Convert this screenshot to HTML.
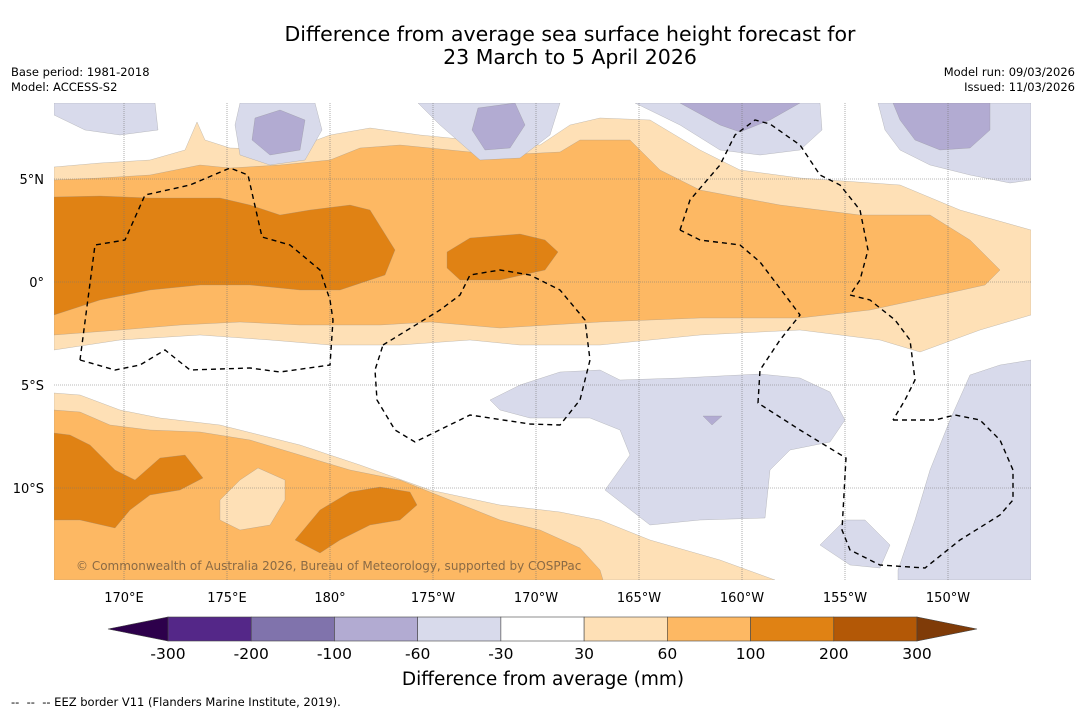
<!DOCTYPE html>
<html><head><meta charset="utf-8"><style>
html,body{margin:0;padding:0;background:#fff;}
body{width:1085px;height:713px;overflow:hidden;font-family:"DejaVu Sans","Liberation Sans",sans-serif;}
svg text{font-family:"DejaVu Sans","Liberation Sans",sans-serif;}
</style></head><body>
<svg id="chart" width="1085" height="713" viewBox="0 0 1085 713">
<text x="570" y="41" font-size="20.5" text-anchor="middle">Difference from average sea surface height forecast for</text>
<text x="570" y="64" font-size="20.5" text-anchor="middle">23 March to 5 April 2026</text>
<text x="11" y="76" font-size="11.5">Base period: 1981-2018</text>
<text x="11" y="91" font-size="11.5">Model: ACCESS-S2</text>
<text x="1075" y="76" font-size="11.5" text-anchor="end">Model run: 09/03/2026</text>
<text x="1075" y="91" font-size="11.5" text-anchor="end">Issued: 11/03/2026</text>
<defs><clipPath id="mapclip"><rect x="54" y="103" width="977" height="477"/></clipPath></defs>
<g id="map" clip-path="url(#mapclip)"></g>
<g id="axes"></g>
<g id="cbar"></g>
<text x="543" y="685" font-size="18.5" text-anchor="middle">Difference from average (mm)</text>
<text x="11" y="706" font-size="11.5" xml:space="preserve" style="white-space:pre">--  --  -- EEZ border V11 (Flanders Marine Institute, 2019).</text>
</svg>
<script>
const lonTicks=[170,175,180,185,190,195,200,205,210];
const lonLabels=["170°E","175°E","180°","175°W","170°W","165°W","160°W","155°W","150°W"];
const latTicks=[5,0,-5,-10];
const latLabels=["5°N","0°","5°S","10°S"];
const levels=[-300,-200,-100,-60,-30,30,60,100,200,300];
const levelColors=["#542788","#8073ac","#b2abd2","#d8daeb","#ffffff","#fee0b6","#fdb863","#e08214","#b35806"];
const extColors=["#2d004b","#7f3b08"];
function xLon(l){return 124+(l-170)*20.6;}
function yLat(l){return 282-l*20.6;}
const NS="http://www.w3.org/2000/svg";
const map=document.getElementById('map'),axes=document.getElementById('axes'),cbar=document.getElementById('cbar');
function mk(tag,at,parent){const e=document.createElementNS(NS,tag);for(const k in at)e.setAttribute(k,at[k]);parent.appendChild(e);return e;}
const shapes=[
["contour-30-60-north","#fee0b6",[[54,167],[100,163],[150,160],[185,150],[197,122],[205,140],[230,148],[290,150],[330,135],[370,128],[420,135],[470,140],[540,145],[570,125],[600,118],[650,120],[700,150],[740,170],[800,178],[900,185],[960,210],[1031,230],[1031,315],[980,330],[920,352],[880,340],[800,330],[700,335],[600,345],[520,345],[470,340],[400,345],[330,345],[270,340],[200,335],[120,340],[54,350]]],
["contour-30-60-south","#fee0b6",[[54,393],[80,395],[120,410],[160,418],[220,425],[300,445],[360,465],[430,490],[500,505],[560,512],[600,520],[650,540],[720,560],[775,580],[54,580]]],
["contour-60-100-north","#fdb863",[[54,180],[100,178],[150,175],[200,165],[230,168],[280,165],[330,160],[360,148],[400,145],[450,150],[500,155],[560,152],[580,140],[630,140],[660,170],[700,190],[780,205],[860,215],[930,215],[970,240],[1000,270],[985,285],[940,295],[870,310],[800,318],[700,318],[600,322],[500,328],[430,322],[380,325],[300,325],[240,322],[180,325],[120,330],[54,335]]],
["contour-60-100-south","#fdb863",[[54,410],[80,412],[110,425],[150,430],[200,432],[250,440],[300,455],[350,470],[400,480],[450,500],[500,520],[540,530],[580,548],[600,570],[603,580],[54,580]]],
["contour-30-60-island","#fee0b6",[[220,500],[240,480],[258,468],[285,480],[285,500],[270,525],[240,530],[220,520]]],
["contour-100-200-west","#e08214",[[54,197],[100,196],[150,198],[220,198],[250,205],[280,215],[310,210],[350,205],[370,210],[395,250],[385,275],[340,290],[300,290],[250,285],[200,285],[150,290],[100,300],[54,315]]],
["contour-100-200-center","#e08214",[[447,252],[470,238],[520,234],[545,240],[558,252],[545,270],[500,280],[460,280],[447,268]]],
["contour-100-200-southwest","#e08214",[[54,433],[70,435],[90,445],[115,470],[135,480],[160,458],[185,455],[203,478],[180,490],[150,495],[130,510],[115,528],[80,520],[54,520]]],
["contour-100-200-south","#e08214",[[295,540],[320,510],[350,492],[380,487],[410,492],[417,505],[400,520],[370,525],[340,540],[320,553]]],
["contour-neg30-a","#d8daeb",[[54,103],[155,103],[158,130],[120,135],[85,130],[54,115]]],
["contour-neg30-b","#d8daeb",[[240,103],[315,103],[322,130],[305,160],[270,165],[240,155],[235,125]]],
["contour-neg60-b","#b2abd2",[[255,118],[280,110],[305,120],[300,150],[270,155],[252,140]]],
["contour-neg30-c","#d8daeb",[[418,103],[560,103],[550,135],[520,158],[480,160],[440,125]]],
["contour-neg60-c","#b2abd2",[[478,108],[515,103],[525,125],[510,148],[485,150],[472,130]]],
["contour-neg30-d","#d8daeb",[[635,103],[820,103],[822,130],[800,150],[760,155],[720,150],[680,125]]],
["contour-neg60-d","#b2abd2",[[680,103],[800,103],[770,120],[740,132],[720,125]]],
["contour-neg30-e","#d8daeb",[[878,103],[1031,103],[1031,180],[1010,183],[970,175],[930,165],[900,150],[885,130]]],
["contour-neg60-e","#b2abd2",[[893,103],[990,103],[990,130],[970,148],[940,150],[915,140],[900,120]]],
["contour-neg30-mid","#d8daeb",[[490,400],[520,385],[560,372],[600,370],[620,380],[680,378],[720,376],[760,374],[800,378],[830,392],[845,420],[830,442],[790,450],[770,470],[765,518],[700,520],[650,525],[605,490],[630,455],[620,430],[590,418],[530,418],[500,410]]],
["contour-neg60-mid","#b2abd2",[[703,416],[722,416],[712,425]]],
["contour-neg30-f","#d8daeb",[[820,545],[845,520],[865,520],[890,545],[880,568],[850,565]]],
["contour-neg30-g","#d8daeb",[[898,570],[915,520],[930,470],[950,420],[970,375],[1000,365],[1031,360],[1031,580],[898,580]]]
];
const eez=[
[[80,360],[95,245],[125,240],[145,195],[190,185],[230,168],[248,175],[262,237],[290,245],[320,270],[330,300],[333,320],[330,365],[280,372],[250,368],[190,370],[165,350],[140,365],[115,370],[80,360]],
[[383,345],[440,310],[460,295],[470,275],[500,270],[530,275],[560,290],[585,320],[590,360],[580,400],[560,425],[530,424],[470,415],[415,442],[395,430],[377,400],[375,370],[383,345]],
[[680,230],[690,200],[720,165],[735,135],[755,120],[770,124],[800,145],[820,175],[840,185],[860,210],[868,250],[860,280],[850,295]],
[[850,295],[870,300],[895,320],[910,340],[915,380],[905,400],[893,420]],
[[893,420],[935,420],[955,415],[980,420],[1000,440],[1013,470],[1013,500],[1000,515],[960,540],[925,568],[880,565],[850,550],[842,530],[846,458],[800,430],[758,403],[760,370],[780,340],[800,315],[785,295],[760,262],[740,245],[700,240],[680,230]]
];
shapes.forEach(s=>{const p=mk('polygon',{points:s[2].map(q=>q.join(',')).join(' '),fill:s[1],stroke:'#888',"stroke-width":0.25},map);

});
lonTicks.forEach((l,i)=>{const x=xLon(l);
const g=mk('line',{x1:x,x2:x,y1:103,y2:580,stroke:'#777',"stroke-width":0.6,"stroke-dasharray":"1,1"},map);


const t=mk('text',{x:x,y:602,"font-size":13,"text-anchor":"middle"},axes);t.textContent=lonLabels[i];

});
latTicks.forEach((l,i)=>{const y=yLat(l);
const g=mk('line',{x1:54,x2:1031,y1:y,y2:y,stroke:'#777',"stroke-width":0.6,"stroke-dasharray":"1,1"},map);


const t=mk('text',{x:44,y:y+5,"font-size":13,"text-anchor":"end"},axes);t.textContent=latLabels[i];

});
eez.forEach(line=>{const p=mk('polyline',{points:line.map(q=>q.join(',')).join(' '),fill:'none',stroke:'#000',"stroke-width":1.4,"stroke-dasharray":"5,4"},map);

});
const cp=mk('text',{x:76,y:570,"font-size":12,fill:'#8a6a45'},map);cp.textContent="© Commonwealth of Australia 2026, Bureau of Meteorology, supported by COSPPac";


const cx0=168,cx1=917,cy=617,ch=24,bw=(cx1-cx0)/levelColors.length;
levelColors.forEach((c,i)=>{const r=mk('rect',{x:cx0+i*bw,y:cy,width:bw,height:ch,fill:c,stroke:'#444',"stroke-width":0.6},cbar);

});
const tl=mk('polygon',{points:`${cx0},${cy} ${cx0},${cy+ch} 108,${cy+ch/2}`,fill:extColors[0],stroke:'#444',"stroke-width":0.6},cbar);


const tr=mk('polygon',{points:`${cx1},${cy} ${cx1},${cy+ch} 977,${cy+ch/2}`,fill:extColors[1],stroke:'#444',"stroke-width":0.6},cbar);


levels.forEach((v,i)=>{const t=mk('text',{x:cx0+i*bw,y:659,"font-size":15.5,"text-anchor":"middle"},cbar);t.textContent=v;

});
</script>
</body></html>
